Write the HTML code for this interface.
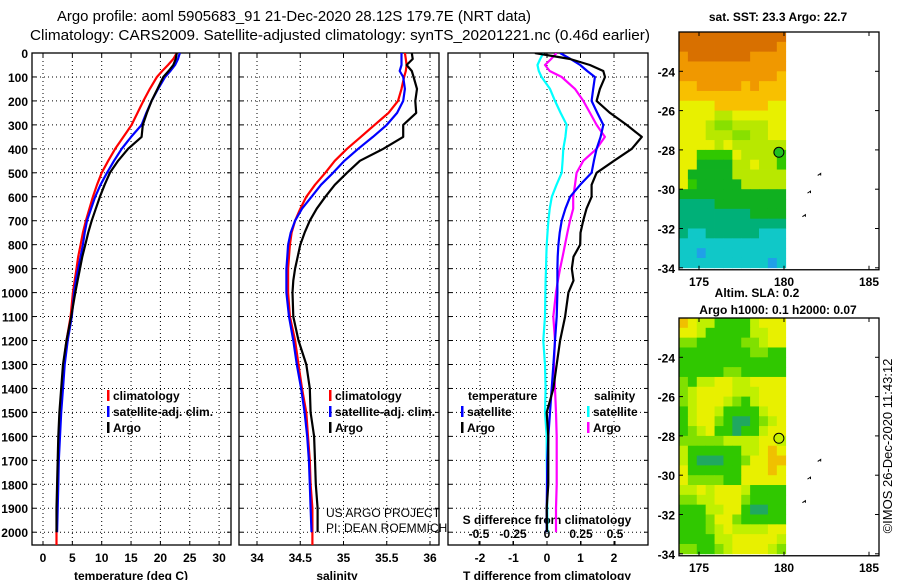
<!DOCTYPE html>
<html><head><meta charset="utf-8"><style>
body{margin:0;background:#fff}
svg{display:block;font-family:"Liberation Sans",sans-serif}
.b{font-weight:bold;font-size:12px}
</style></head><body>
<svg id="c" width="900" height="580" viewBox="0 0 900 580"></svg>
<script>
// ===== data =====
const depths=[0,25,50,75,100,150,200,250,300,350,400,450,500,550,600,650,700,750,800,850,900,950,1000,1100,1200,1300,1400,1500,1600,1700,1800,1900,2000];
const tempClim=[22.8,22.2,21.3,20.3,19.4,18.2,17.1,16.1,15.1,13.7,12.3,11.1,10.0,9.2,8.5,7.9,7.3,6.8,6.4,6.0,5.7,5.4,5.1,4.7,4.0,3.5,3.2,2.9,2.8,2.6,2.5,2.4,2.3];
const tempSat=[23.3,23.0,22.5,21.7,20.8,19.6,18.5,17.6,16.8,15.0,13.4,12.1,10.9,9.8,8.9,8.2,7.5,7.1,6.8,6.4,6.0,5.6,5.3,4.9,4.2,3.7,3.4,3.1,2.9,2.7,2.6,2.5,2.4];
const tempArgo=[22.8,22.6,22.2,21.4,20.5,19.5,18.5,17.7,17.0,16.8,14.5,12.8,11.4,10.5,9.7,9.0,8.3,7.7,7.2,6.7,6.3,5.9,5.5,4.8,4.0,3.4,3.1,2.8,2.6,2.5,2.4,2.3,2.3];
const salClim=[35.71,35.72,35.73,35.72,35.70,35.67,35.63,35.52,35.36,35.20,35.04,34.90,34.79,34.67,34.57,34.50,34.44,34.40,34.38,34.37,34.36,34.36,34.36,34.38,34.44,34.48,34.52,34.57,34.59,34.61,34.62,34.64,34.64];
const salSat=[35.67,35.67,35.67,35.65,35.69,35.71,35.69,35.62,35.50,35.34,35.17,35.01,34.88,34.74,34.63,34.52,34.44,34.39,34.36,34.35,34.34,34.34,34.34,34.37,34.42,34.46,34.51,34.55,34.58,34.60,34.61,34.62,34.63];
const salArgo=[35.79,35.80,35.73,35.79,35.81,35.85,35.83,35.84,35.69,35.69,35.46,35.19,35.04,34.90,34.79,34.69,34.61,34.55,34.50,34.47,34.44,34.42,34.41,34.42,34.48,34.57,34.61,34.62,34.66,34.67,34.68,34.70,34.70];
const dTsat=[0.39,0.7,0.99,1.2,1.43,1.38,1.33,1.5,1.68,1.6,1.48,1.4,1.33,0.99,0.69,0.55,0.44,0.38,0.34,0.32,0.31,0.31,0.31,0.29,0.24,0.19,0.14,0.09,0.04,0.01,0.0,-0.01,-0.01];
const dTargo=[-0.36,0.69,1.28,1.68,1.73,1.58,1.48,1.88,2.38,2.83,2.53,2.0,1.48,1.33,1.33,1.18,1.08,1.0,0.99,0.79,0.74,0.79,0.64,0.54,0.39,0.29,0.19,-0.01,0.04,0.04,0.04,-0.01,0.0];
const dSsat=[-0.027,-0.05,-0.07,-0.06,-0.04,0.022,0.059,0.1,0.145,0.135,0.12,0.115,0.108,0.07,0.035,0.02,0.01,0.004,-0.002,-0.005,-0.007,-0.01,-0.012,-0.015,-0.027,-0.015,-0.01,-0.015,-0.002,-0.002,0.0,0.002,0.002];
const dSargo=[0.07,0.03,-0.015,0.02,0.108,0.206,0.267,0.316,0.365,0.426,0.365,0.267,0.218,0.206,0.193,0.193,0.169,0.15,0.132,0.115,0.096,0.08,0.066,0.046,0.059,0.051,0.059,0.066,0.071,0.071,0.071,0.066,0.066];
const tTicks=[0,5,10,15,20,25,30];
const sTicks=[34,34.5,35,35.5,36];
const dtTicks=[-2,-1,0,1,2];
const dsTicks=[-0.5,-0.25,0,0.25,0.5];
const dsLabels=["-0.5","-0.25","0","0.25","0.5"];
const depthTicks=[0,100,200,300,400,500,600,700,800,900,1000,1100,1200,1300,1400,1500,1600,1700,1800,1900,2000];
const latTicks=[-24,-26,-28,-30,-32,-34];
const lonTicks=[175,180,185];
// map grids: rows lat -22..-33.5 step 0.5, 12 cols lon 173.8..180
const sstGrid=["000000000000","000000000001","100000001111","111111111111","111111111112","221111121222","222222222222","333322222233","333344333333","333455444433","333444554433","333343444444","336666344446","337777443446","377777444444","367777744444","777777777777","888877777777","888888887777","888888888888","899888888999","999999999999","99a999999999","9999999999a9"];
const sstColors={"0":"#d87000","1":"#f09800","2":"#f8c000","3":"#e8f000","4":"#b8e800","5":"#88e000","6":"#30c800","7":"#10b020","8":"#00b078","9":"#10c8c8","a":"#20a0e8"};
const slaGrid=["012244442111","112444442211","334444433211","444444443344","444444444444","444443344444","342211221111","321111222111","321112342111","421124444211","421134554321","432144544211","333332222112","244444422101","245554431100","144444411101","133334411111","221211124444","332211134444","444221145544","444311344444","444321222211","444422111112","334432111123"];
const slaColors={"0":"#f0c000","1":"#e8f000","2":"#c0f000","3":"#80e000","4":"#30c800","5":"#20a860"};

// ===== scales =====
const yD=d=>53+d*0.2396;
const xT=t=>43+t*5.87;
const xS=s=>257+(s-34)*86.5;
const xDT=v=>547+v*33.5;
const xDS=v=>547+v*136;
const svg=document.getElementById('c');
const NS="http://www.w3.org/2000/svg";
function mk(tag,attrs,parent){const e=document.createElementNS(NS,tag);for(const k in attrs)e.setAttribute(k,attrs[k]);(parent||svg).appendChild(e);return e;}
function txt(x,y,s,cls,anchor,extra){const e=mk('text',Object.assign({x:x,y:y,'text-anchor':anchor||'start'},extra||{}));if(cls)e.setAttribute('class',cls);e.textContent=s;return e;}

// titles
let t1=txt(57,21,"Argo profile: aoml 5905683_91 21-Dec-2020 28.12S 179.7E (NRT data)",null,'start',{'font-size':'15','textLength':'474','lengthAdjust':'spacingAndGlyphs'});


let t2=txt(30,40,"Climatology: CARS2009. Satellite-adjusted climatology: synTS_20201221.nc (0.46d earlier)",null,'start',{'font-size':'15','textLength':'620','lengthAdjust':'spacingAndGlyphs'});



const panels=[{x0:32,x1:231,name:'temperature-panel'},{x0:239,x1:439,name:'salinity-panel'},{x0:448,x1:648,name:'difference-panel'}];
const bottom=545;
panels.forEach((p,i)=>{
  const g=mk('g',{});
  
  
  p.g=g;
  let xs = i==0?tTicks.map(xT):i==1?sTicks.map(xS):dtTicks.map(xDT);
  xs.forEach(x=>{mk('line',{x1:x,x2:x,y1:53,y2:bottom,stroke:'#000','stroke-width':1,'stroke-dasharray':'1,3'},g);
    mk('line',{x1:x,x2:x,y1:53,y2:57,stroke:'#000'},g);mk('line',{x1:x,x2:x,y1:bottom,y2:bottom-4,stroke:'#000'},g);});
  if(i==2) dsTicks.forEach(v=>{const x=xDS(v);mk('line',{x1:x,x2:x,y1:bottom,y2:bottom-4,stroke:'#000'},g);});
  depthTicks.forEach(d=>{const y=yD(d);mk('line',{x1:p.x0,x2:p.x1,y1:y,y2:y,stroke:'#000','stroke-width':1,'stroke-dasharray':'1,3'},g);
    mk('line',{x1:p.x0,x2:p.x0+4,y1:y,y2:y,stroke:'#000'},g);mk('line',{x1:p.x1,x2:p.x1-4,y1:y,y2:y,stroke:'#000'},g);});
  mk('rect',{x:p.x0,y:53,width:p.x1-p.x0,height:bottom-53,fill:'none',stroke:'#000','stroke-width':1.3},g);
});
depthTicks.forEach(d=>{const e=txt(28,yD(d)+5,String(d),'b','end');});
tTicks.forEach(t=>{const e=txt(xT(t),562,String(t),'b','middle');});
sTicks.forEach(s=>{const e=txt(xS(s),562,String(s),'b','middle');});
dtTicks.forEach(v=>{const e=txt(xDT(v),562,String(v),'b','middle');});
dsTicks.forEach((v,i)=>{const e=txt(xDS(v),538,dsLabels[i],'b','middle');});
let a;
a=txt(131,580,"temperature (deg C)",'b','middle');
a=txt(337,580,"salinity",'b','middle');
a=txt(547,580,"T difference from climatology",'b','middle');
a=txt(547,524,"S difference from climatology",'b','middle');
a=txt(326,517,"US ARGO PROJECT",null,'start',{'font-size':'12'});
a=txt(326,532,"PI: DEAN ROEMMICH",null,'start',{'font-size':'12'});

function line(vals,xf,color,name,g,maxDepthExtra){
  let pts=vals.map((v,i)=>xf(v).toFixed(1)+','+yD(depths[i]).toFixed(1));
  if(maxDepthExtra) pts.push(xf(vals[vals.length-1]).toFixed(1)+','+yD(maxDepthExtra).toFixed(1));
  const e=mk('polyline',{points:pts.join(' '),fill:'none',stroke:color,'stroke-width':2.2,'stroke-linejoin':'round'},g);
  
  
}
const cp=(id,x0,x1)=>{const c=mk('clipPath',{id:id});mk('rect',{x:x0,y:53,width:x1-x0,height:bottom-53},c);};
cp('c1',32,231);cp('c2',239,439);cp('c3',448,648);
const g1=mk('g',{'clip-path':'url(#c1)'}),g2=mk('g',{'clip-path':'url(#c2)'}),g3=mk('g',{'clip-path':'url(#c3)'});
line(tempClim,xT,'#ff0000','temperature-climatology-line',g1,2055);
line(tempSat,xT,'#0000ff','temperature-satellite-line',g1);
line(tempArgo,xT,'#000','temperature-argo-line',g1);
line(salClim,xS,'#ff0000','salinity-climatology-line',g2,2055);
line(salSat,xS,'#0000ff','salinity-satellite-line',g2);
line(salArgo,xS,'#000','salinity-argo-line',g2);
line(dSsat,xDS,'#00ffff','s-diff-satellite-line',g3);
line(dSargo,xDS,'#ff00ff','s-diff-argo-line',g3);
line(dTsat,xDT,'#0000ff','t-diff-satellite-line',g3);
line(dTargo,xDT,'#000','t-diff-argo-line',g3);

function leg(x,y,color,label,name){
  const g=mk('g',{});
  mk('rect',{x:x,y:y-10,width:2.5,height:11,fill:color},g);
  const t=mk('text',{x:x+6,y:y,'class':'b'},g);t.textContent=label;
}
leg(107,400,'#ff0000','climatology','legend-climatology');
leg(107,416,'#0000ff','satellite-adj. clim.','legend-satellite');
leg(107,432,'#000','Argo','legend-argo');
leg(329,400,'#ff0000','climatology','legend-climatology-sal');
leg(329,416,'#0000ff','satellite-adj. clim.','legend-satellite-sal');
leg(329,432,'#000','Argo','legend-argo-sal');
a=txt(468,400,"temperature",'b');
a=txt(594,400,"salinity",'b');
leg(461,416,'#0000ff','satellite','legend-t-satellite');
leg(461,432,'#000','Argo','legend-t-argo');
leg(587,416,'#00ffff','satellite','legend-s-satellite');
leg(587,432,'#ff00ff','Argo','legend-s-argo');

// ===== maps =====
const lonX=l=>699+(l-175)*17;
function drawMap(top,grid,colors,name,circleColor,title1,title2){
  const latY=la=>top+(-22-la)*19.65;
  const g=mk('g',{});
  const cw=(lonX(180.1)-679)/12, ch=19.65*0.5;
  grid.forEach((row,r)=>{for(let c=0;c<row.length;c++){
    const cell=mk('rect',{x:(679+c*cw).toFixed(2),y:(latY(-22-r*0.5)).toFixed(2),width:(cw+0.4).toFixed(2),height:(ch+0.4).toFixed(2),fill:colors[row[c]]},g);
    
    
  }});
  mk('rect',{x:679,y:top,width:200,height:latY(-34.1)-top,fill:'none',stroke:'#000','stroke-width':1.3},g);
  latTicks.forEach(la=>{const y=latY(la);mk('line',{x1:679,x2:683,y1:y,y2:y,stroke:'#000'},g);mk('line',{x1:879,x2:875,y1:y,y2:y,stroke:'#000'},g);
    const t=mk('text',{x:675,y:y+5,'text-anchor':'end','class':'b'},g);t.textContent=String(la);});
  lonTicks.forEach(l=>{const x=lonX(l);const yb=latY(-34.1);mk('line',{x1:x,x2:x,y1:top,y2:top+4,stroke:'#000'},g);mk('line',{x1:x,x2:x,y1:yb,y2:yb-4,stroke:'#000'},g);
    const t=mk('text',{x:x,y:yb+16,'text-anchor':'middle','class':'b'},g);t.textContent=String(l);});
  [[182.1,-29.3],[181.5,-30.2],[181.2,-31.4]].forEach(p=>mk('path',{d:`M${lonX(p[0])-2},${latY(p[1])} l3,-2 l0,2`,stroke:'#000',fill:'none','stroke-width':1},g));
  const c=mk('circle',{cx:lonX(179.7),cy:latY(-28.12),r:5,fill:circleColor,stroke:'#000','stroke-width':1},g);
  
  
}
drawMap(32,sstGrid,sstColors,'sst-map','#20c020');
drawMap(318,slaGrid,slaColors,'sla-map','#c8f000');
a=txt(778,21,"sat. SST: 23.3 Argo: 22.7",'b','middle');
a=txt(757,297,"Altim. SLA: 0.2",'b','middle');
a=txt(778,314,"Argo h1000: 0.1 h2000: 0.07",'b','middle');
a=txt(0,0,"©IMOS 26-Dec-2020 11:43:12",null,'middle',{'font-size':'13','transform':'translate(892,446) rotate(-90)'});

</script>
</body></html>
